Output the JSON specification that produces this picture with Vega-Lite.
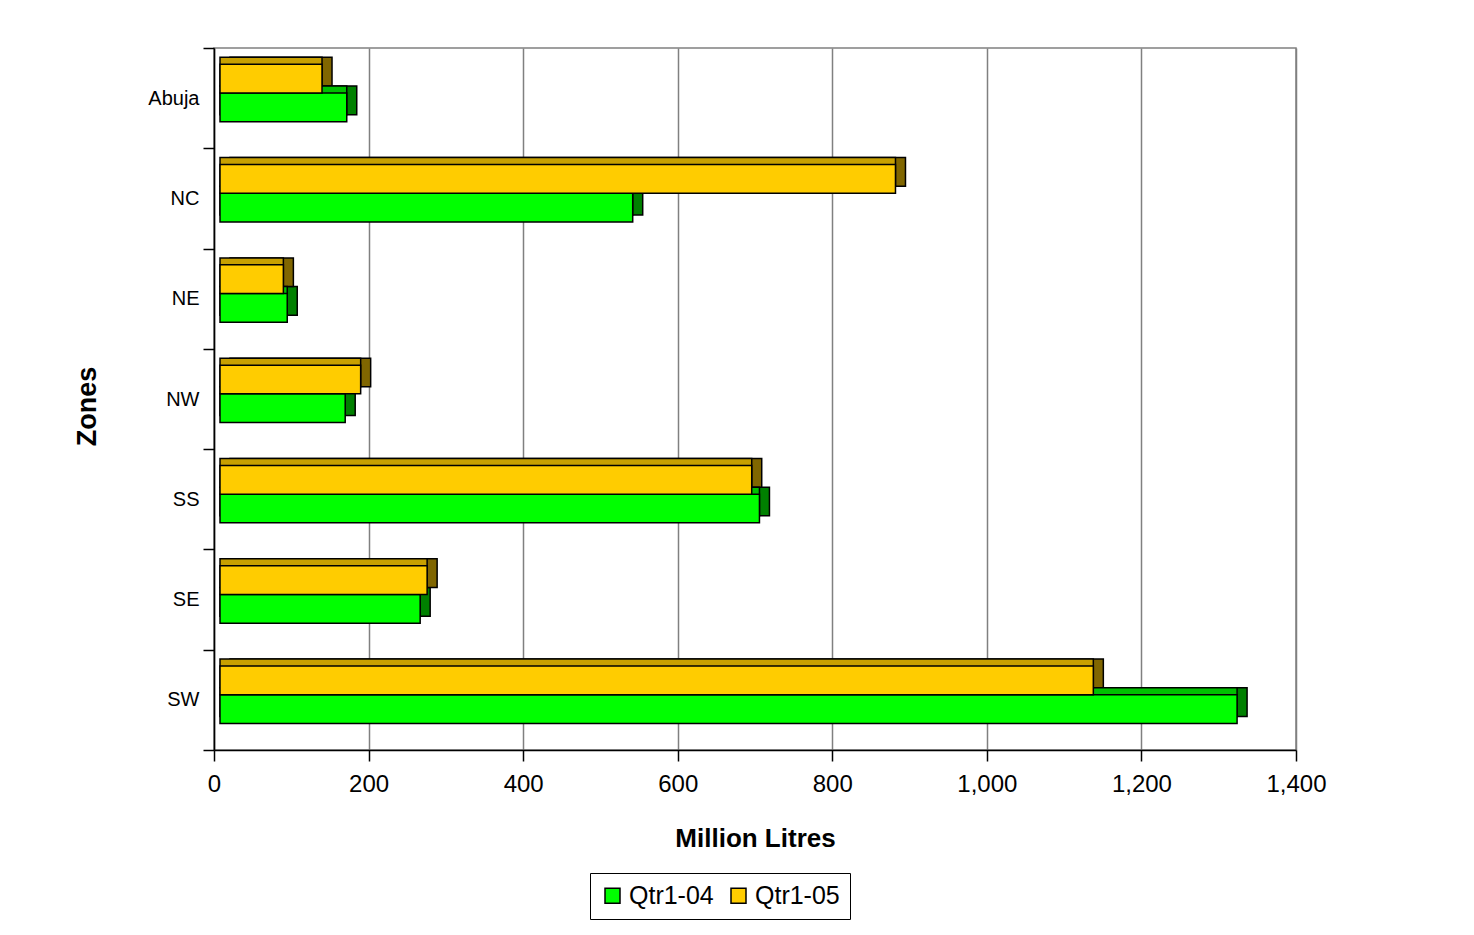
{
  "$schema": "https://vega.github.io/schema/vega-lite/v6.json",
  "width": 1082,
  "height": 702,
  "autosize": {"type": "none"},
  "padding": {"left": 214, "top": 48, "right": 178, "bottom": 185},
  "background": "white",
  "config": {
    "font": "Liberation Sans",
    "view": {"stroke": "#808080", "strokeWidth": 1.5}
  },
  "data": {
    "values": [
      {"zone": "Abuja", "quarter": "Qtr1-04", "value": 164},
      {"zone": "Abuja", "quarter": "Qtr1-05", "value": 132},
      {"zone": "NC", "quarter": "Qtr1-04", "value": 534},
      {"zone": "NC", "quarter": "Qtr1-05", "value": 874},
      {"zone": "NE", "quarter": "Qtr1-04", "value": 87},
      {"zone": "NE", "quarter": "Qtr1-05", "value": 82},
      {"zone": "NW", "quarter": "Qtr1-04", "value": 162},
      {"zone": "NW", "quarter": "Qtr1-05", "value": 182},
      {"zone": "SS", "quarter": "Qtr1-04", "value": 698},
      {"zone": "SS", "quarter": "Qtr1-05", "value": 688},
      {"zone": "SE", "quarter": "Qtr1-04", "value": 259},
      {"zone": "SE", "quarter": "Qtr1-05", "value": 268},
      {"zone": "SW", "quarter": "Qtr1-04", "value": 1316},
      {"zone": "SW", "quarter": "Qtr1-05", "value": 1130}
    ]
  },
  "encoding": {
    "y": {
      "field": "zone",
      "type": "nominal",
      "sort": ["Abuja", "NC", "NE", "NW", "SS", "SE", "SW"],
      "scale": {"paddingInner": 0, "paddingOuter": 0},
      "title": "Zones",
      "axis": {
        "tickBand": "extent",
        "grid": false,
        "domainColor": "black",
        "domainWidth": 1.5,
        "tickColor": "black",
        "tickWidth": 1.5,
        "tickSize": 11,
        "labelFontSize": 20,
        "labelColor": "black",
        "labelPadding": 4,
        "titleFontSize": 27,
        "titleFontWeight": "bold",
        "titleColor": "black",
        "titlePadding": 46,
        "titleY": 358
      }
    },
    "x": {
      "field": "value",
      "type": "quantitative",
      "scale": {"domain": [0, 1400], "nice": false},
      "title": "Million Litres",
      "axis": {
        "values": [0, 200, 400, 600, 800, 1000, 1200, 1400],
        "format": ",d",
        "labelFlush": false,
        "grid": true,
        "gridColor": "#808080",
        "gridWidth": 1.5,
        "domainColor": "black",
        "domainWidth": 1.5,
        "tickColor": "black",
        "tickWidth": 1.5,
        "tickSize": 11,
        "labelFontSize": 24,
        "labelColor": "black",
        "labelPadding": 11,
        "titleFontSize": 26,
        "titleFontWeight": "bold",
        "titleColor": "black",
        "titlePadding": 29
      }
    }
  },
  "layer": [
    {
      "mark": {"type": "bar", "xOffset": 16, "x2Offset": 16, "stroke": "black", "strokeWidth": 1.5},
      "encoding": {
        "yOffset": {
          "field": "quarter",
          "type": "nominal",
          "sort": ["Qtr1-05", "Qtr1-04"],
          "scale": {"paddingInner": 0, "paddingOuter": 0.747, "align": 0.217}
        },
        "color": {
          "field": "quarter",
          "type": "nominal",
          "scale": {"domain": ["Qtr1-04", "Qtr1-05"], "range": ["#008000", "#806600"]},
          "legend": null
        }
      }
    },
    {
      "mark": {"type": "bar", "xOffset": 6, "x2Offset": 16, "stroke": "black", "strokeWidth": 1.5},
      "encoding": {
        "yOffset": {
          "field": "quarter",
          "type": "nominal",
          "sort": ["Qtr1-05", "Qtr1-04"],
          "scale": {"paddingInner": 0, "paddingOuter": 0.747, "align": 0.217}
        },
        "color": {
          "field": "quarter",
          "type": "nominal",
          "scale": {"domain": ["Qtr1-04", "Qtr1-05"], "range": ["#00C000", "#C8A000"]},
          "legend": null
        }
      }
    },
    {
      "mark": {"type": "bar", "xOffset": 6, "x2Offset": 6, "stroke": "black", "strokeWidth": 1.5},
      "encoding": {
        "yOffset": {
          "field": "quarter",
          "type": "nominal",
          "sort": ["Qtr1-05", "Qtr1-04"],
          "scale": {"paddingInner": 0, "paddingOuter": 0.747, "align": 0.38}
        },
        "color": {
          "field": "quarter",
          "type": "nominal",
          "scale": {"domain": ["Qtr1-04", "Qtr1-05"], "range": ["#00FF00", "#FFCC00"]},
          "legend": {
            "title": null,
            "orient": "none",
            "legendX": 376,
            "legendY": 825,
            "direction": "horizontal",
            "columns": 2,
            "strokeColor": "black",
            "fillColor": "white",
            "padding": 10,
            "labelFontSize": 25,
            "labelColor": "black",
            "labelOffset": 4,
            "columnPadding": 12,
            "symbolType": "square",
            "symbolSize": 225,
            "symbolStrokeColor": "black",
            "symbolStrokeWidth": 1.5
          }
        }
      }
    }
  ],
  "resolve": {"scale": {"color": "independent", "yOffset": "independent"}}
}
